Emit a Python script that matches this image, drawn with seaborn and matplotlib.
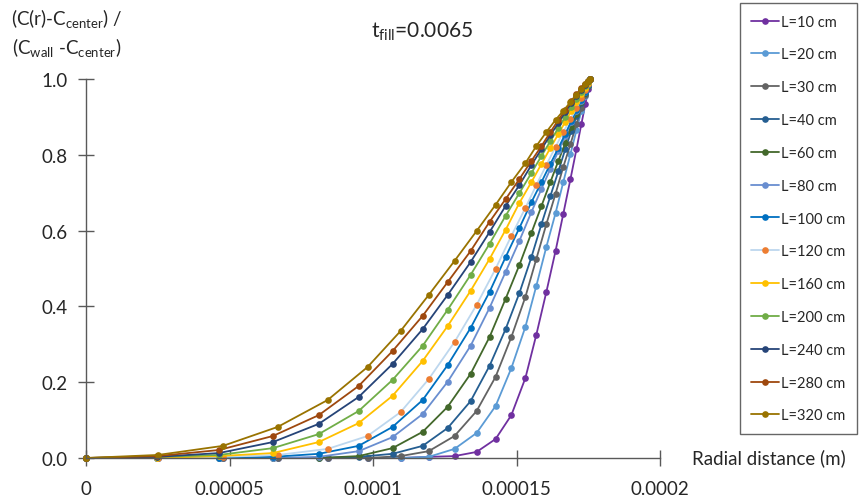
import numpy as np
import pandas as pd
import matplotlib
matplotlib.use("Agg")
import matplotlib.pyplot as plt
from matplotlib.lines import Line2D
import seaborn as sns

# Radial node positions (micrometres) of the two discretisations used
r_grid_a = [0, 25.05, 47.7, 66.8, 84.2, 98.1, 109.6, 119.4, 128.4, 136.1, 142.7, 148.2,
            153.1, 156.9, 160.4, 163.6, 166.3, 168.8, 170.9, 172.6, 174.0, 175.0, 175.7]
r_grid_b = [0, 24.7, 46.3, 65.1, 81.1, 95.0, 106.8, 117.3, 126.0, 134.0, 140.6, 146.2,
            151.0, 155.2, 158.7, 161.8, 164.6, 167.0, 169.1, 170.9, 172.6, 174.0, 175.0, 175.7]

labels = ["L=10 cm", "L=20 cm", "L=30 cm", "L=40 cm", "L=60 cm", "L=80 cm", "L=100 cm",
          "L=120 cm", "L=160 cm", "L=200 cm", "L=240 cm", "L=280 cm", "L=320 cm"]

# Normalised concentration profiles (C(r)-Cc)/(Cw-Cc)
c_l10 = [0, 0, 0, 0, 0, 0, 0, 0.003, 0.005, 0.016, 0.050, 0.113, 0.211, 0.325, 0.438,
         0.546, 0.644, 0.736, 0.815, 0.881, 0.934, 0.974, 1.0]
c_l20 = [0, 0, 0, 0, 0, 0, 0, 0.003, 0.024, 0.066, 0.137, 0.237, 0.346, 0.454, 0.557,
         0.646, 0.728, 0.802, 0.865, 0.916, 0.955, 0.982, 1.0]
c_l30 = [0, 0, 0, 0, 0, 0, 0.005, 0.018, 0.058, 0.124, 0.214, 0.319, 0.425, 0.525, 0.617,
         0.697, 0.768, 0.828, 0.881, 0.923, 0.958, 0.982, 1.0]
c_l40 = [0, 0, 0, 0, 0, 0.003, 0.011, 0.032, 0.079, 0.150, 0.243, 0.340, 0.435, 0.530,
         0.617, 0.691, 0.757, 0.815, 0.863, 0.902, 0.937, 0.963, 0.984, 1.0]
c_l60 = [0, 0, 0, 0, 0, 0.005, 0.026, 0.069, 0.135, 0.222, 0.319, 0.420, 0.509, 0.594,
         0.665, 0.728, 0.784, 0.831, 0.873, 0.908, 0.939, 0.963, 0.982, 1.0]
c_l80 = [0, 0, 0, 0, 0.003, 0.018, 0.055, 0.116, 0.201, 0.296, 0.396, 0.491, 0.573, 0.649,
         0.710, 0.763, 0.810, 0.850, 0.887, 0.916, 0.942, 0.966, 0.984, 1.0]
c_l100 = [0, 0, 0, 0.003, 0.011, 0.032, 0.082, 0.153, 0.245, 0.343, 0.438, 0.530, 0.607,
          0.675, 0.728, 0.776, 0.818, 0.855, 0.889, 0.918, 0.945, 0.966, 0.984, 1.0]
c_l120 = [0, 0, 0.003, 0.008, 0.024, 0.058, 0.121, 0.208, 0.306, 0.404, 0.499, 0.586, 0.660,
          0.720, 0.773, 0.821, 0.860, 0.894, 0.923, 0.950, 0.971, 0.987, 1.0]
c_l160 = [0, 0, 0.005, 0.013, 0.042, 0.092, 0.164, 0.256, 0.348, 0.441, 0.525, 0.602, 0.673,
          0.728, 0.776, 0.818, 0.855, 0.887, 0.916, 0.939, 0.960, 0.976, 0.989, 1.0]
c_l200 = [0, 0.003, 0.008, 0.026, 0.063, 0.124, 0.206, 0.296, 0.391, 0.483, 0.565, 0.639,
          0.699, 0.752, 0.797, 0.836, 0.871, 0.900, 0.926, 0.947, 0.966, 0.982, 0.992, 1.0]
c_l240 = [0, 0.003, 0.013, 0.042, 0.090, 0.161, 0.248, 0.340, 0.430, 0.517, 0.596, 0.665,
          0.720, 0.773, 0.815, 0.852, 0.884, 0.913, 0.937, 0.955, 0.971, 0.984, 0.995, 1.0]
c_l280 = [0, 0.005, 0.021, 0.058, 0.113, 0.190, 0.282, 0.375, 0.464, 0.546, 0.623, 0.683,
          0.736, 0.784, 0.823, 0.860, 0.892, 0.918, 0.942, 0.960, 0.976, 0.987, 0.995, 1.0]
c_l320 = [0, 0.008, 0.032, 0.082, 0.153, 0.240, 0.335, 0.430, 0.520, 0.599, 0.668, 0.728,
          0.778, 0.823, 0.860, 0.892, 0.916, 0.939, 0.958, 0.974, 0.987, 0.995, 1.0]

profiles = [
    (r_grid_a, c_l10), (r_grid_a, c_l20), (r_grid_a, c_l30), (r_grid_b, c_l40),
    (r_grid_b, c_l60), (r_grid_b, c_l80), (r_grid_b, c_l100), (r_grid_a, c_l120),
    (r_grid_b, c_l160), (r_grid_b, c_l200), (r_grid_b, c_l240), (r_grid_b, c_l280),
    (r_grid_a, c_l320),
]

line_colors = ["#7030A0", "#5B9BD5", "#636363", "#255E91", "#43682B", "#698ED0", "#0070C0",
               "#BDD7EE", "#FFC000", "#70AD47", "#264478", "#9E480E", "#997300"]
marker_colors = ["#7030A0", "#5B9BD5", "#636363", "#255E91", "#43682B", "#698ED0", "#0070C0",
                 "#ED7D31", "#FFC000", "#70AD47", "#264478", "#9E480E", "#997300"]

rows = []
for name, (grid, vals) in zip(labels, profiles):
    for r_um, c in zip(grid, vals):
        rows.append({"series": name, "r": r_um * 1e-6, "c": c})
df = pd.DataFrame(rows)

sns.set_theme(style="white")
plt.rcParams["font.family"] = ["Lato", "DejaVu Sans"]
plt.rcParams["mathtext.fontset"] = "custom"
plt.rcParams["mathtext.rm"] = "Lato"

text_color = "#262626"
axis_color = "#595959"

fig = plt.figure(figsize=(8.6, 5.02), dpi=100)
ax = fig.add_axes([86 / 860, 43 / 502, 574 / 860, 379 / 502])

for name, lc, mc in zip(labels, line_colors, marker_colors):
    sub = df[df["series"] == name]
    sns.lineplot(data=sub, x="r", y="c", ax=ax, color=lc, lw=1.3, sort=False,
                 estimator=None, marker="o", markersize=4.8, markerfacecolor=mc,
                 markeredgecolor=mc, markeredgewidth=0, clip_on=False)

ax.set_xlim(0, 0.0002)
ax.set_ylim(0, 1.0)
ax.set_xticks([0, 0.00005, 0.0001, 0.00015, 0.0002])
ax.set_xticklabels(["0", "0.00005", "0.0001", "0.00015", "0.0002"])
ax.set_yticks([0, 0.2, 0.4, 0.6, 0.8, 1.0])
ax.set_yticklabels(["0.0", "0.2", "0.4", "0.6", "0.8", "1.0"])
ax.set_xlabel("")
ax.set_ylabel("")
ax.tick_params(axis="both", which="major", bottom=True, left=True, direction="inout",
               length=11, width=1, color=axis_color, labelsize=13.5, labelcolor=text_color)
ax.tick_params(axis="x", pad=10)
ax.tick_params(axis="y", pad=7.5)
for side in ("top", "right"):
    ax.spines[side].set_visible(False)
for side in ("left", "bottom"):
    ax.spines[side].set_color(axis_color)
    ax.spines[side].set_linewidth(1)

fig.text(422 / 860, 1 - 32 / 502, r"t$_{\mathregular{fill}}$=0.0065", ha="center",
         va="center", fontsize=15, color=text_color)
fig.text(67 / 860, 1 - 34 / 502,
         "(C(r)-C$_{\\mathregular{center}}$) /\n(C$_{\\mathregular{wall}}$ -C$_{\\mathregular{center}}$)",
         ha="center", va="center", multialignment="center", fontsize=13.5, color=text_color,
         linespacing=1.3)
fig.text(692 / 860, 1 - 458 / 502, "Radial distance (m)", ha="left", va="center",
         fontsize=13.5, color=text_color)

handles = [Line2D([], [], color=lc, lw=1.3, marker="o", markersize=4.8, markerfacecolor=mc,
                  markeredgecolor=mc, markeredgewidth=0)
           for lc, mc in zip(line_colors, marker_colors)]
leg = fig.legend(handles, labels, loc="upper right", bbox_to_anchor=(857 / 860, 1 - 4 / 502),
                 frameon=True, fancybox=False, edgecolor="#404040", fontsize=10.5,
                 handlelength=1.9, handletextpad=0.15, labelspacing=1.29, borderpad=0.8,
                 borderaxespad=0)
leg.get_frame().set_linewidth(1)
for t in leg.get_texts():
    t.set_color(text_color)

fig.savefig("out.png", dpi=100)
